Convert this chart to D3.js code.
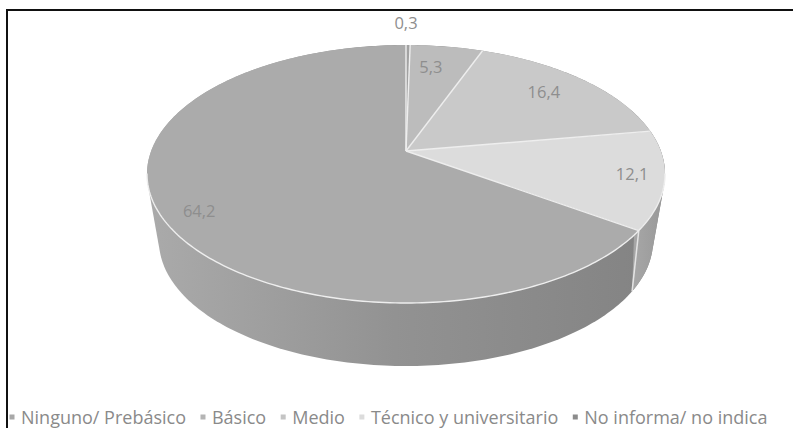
<!DOCTYPE html>
<html>
<head>
<meta charset="utf-8">
<script src="https://cdn.jsdelivr.net/npm/d3@7"></script>
<style>
  html, body { margin: 0; padding: 0; background: #fff; }
  svg { display: block; font-family: "Open Sans", sans-serif; }
</style>
</head>
<body>
<svg id="chart" width="793" height="428"></svg>
<script>
// Education level shares
const categories = ["Ninguno/ Prebásico", "Básico", "Medio", "Técnico y universitario", "No informa/ no indica"];
const shares = [0.3, 5.3, 16.4, 12.1, 64.2];
const shareLabels = ["0,3", "5,3", "16,4", "12,1", "64,2"];
const topColours = ["#a2a2a2", "#bcbcbc", "#c9c9c9", "#dcdcdc", "#ababab"];
const legendColours = ["#a8a8a8", "#b4b4b4", "#c4c4c4", "#dcdcdc", "#8c8c8c"];

// Label placement as fractions of the way from the apex to the rim
const labelReachX = [0, 0.61, 0.78, 0.874, 0.84];
const labelReachY = [1.21, 0.81, 0.84, 0.77, 0.94];

const svg = d3.select("#chart");
const centreX = 406;
const apexY = 151;
const deg = Math.PI / 180;

// A disc seen in perspective: a circle angle maps to screen through a projective transform.
function discProjection(topY, bottomY, halfWidth, skew) {
  const a = (topY * (1 + skew) - bottomY * (1 - skew)) / 2;
  const b = (topY * (1 + skew) + bottomY * (1 - skew)) / 2;
  const d = halfWidth * Math.sqrt(1 - skew * skew);
  return t => {
    const w = 1 + skew * Math.cos(t);
    return [centreX + d * Math.sin(t) / w, (a * Math.cos(t) + b) / w];
  };
}

const topRim = discProjection(45, 303, 259, 0.178);
const bottomRim = discProjection(116, 366, 247, 0.22);
const apex = [centreX, apexY];

const arcs = d3.pie().value(d => d).sort(null)(shares);
const line = d3.line();
const anglesBetween = (a0, a1) => {
  const out = d3.range(a0, a1, deg);
  out.push(a1);
  return out;
};

// Wall shading runs across the screen from lighter left to darker right.
const defs = svg.append("defs");
function wallGradient(id, x1, x2, stops) {
  const g = defs.append("linearGradient")
    .attr("id", id)
    .attr("gradientUnits", "userSpaceOnUse")
    .attr("x1", x1).attr("x2", x2).attr("y1", 0).attr("y2", 0);
  stops.forEach(([offset, colour]) => g.append("stop").attr("offset", offset).attr("stop-color", colour));
}
wallGradient("wall-main", 150, 640, [[0, "#aaaaaa"], [0.5, "#929292"], [1, "#848484"]]);
wallGradient("wall-right", 635, 665, [[0, "#a6a6a6"], [1, "#989898"]]);

// Cylinder wall: hull of both rims, with the right-hand slice's wall laid over it
const wallHull = (a0, a1) => {
  const angles = anglesBetween(a0, a1);
  return d3.polygonHull([...angles.map(topRim), ...angles.map(bottomRim)]);
};
svg.append("path")
  .attr("d", line(wallHull(0, 2 * Math.PI)) + "Z")
  .attr("fill", "url(#wall-main)");
svg.append("path")
  .attr("d", line(wallHull(arcs[3].startAngle, arcs[3].endAngle)) + "Z")
  .attr("fill", "url(#wall-right)");

// Pale edge where the two front walls meet
const seam = arcs[3].endAngle;
svg.append("path")
  .attr("d", line([topRim(seam), bottomRim(seam)]))
  .attr("fill", "none")
  .attr("stroke", "#e4e4e4")
  .attr("stroke-width", 1.5);

// Top face of each slice
svg.append("g").selectAll("path")
  .data(arcs)
  .join("path")
  .attr("d", d => line([apex, ...anglesBetween(d.startAngle, d.endAngle).map(topRim)]) + "Z")
  .attr("fill", (d, i) => topColours[i]);

// Pale separators between slices and along the front of the rim
svg.append("g").selectAll("path")
  .data(arcs)
  .join("path")
  .attr("d", d => line([apex, topRim(d.startAngle)]))
  .attr("fill", "none")
  .attr("stroke", "#eeeeee")
  .attr("stroke-width", 1.4);
svg.append("path")
  .attr("d", line(anglesBetween(100 * deg, 260 * deg).map(topRim)))
  .attr("fill", "none")
  .attr("stroke", "#eeeeee")
  .attr("stroke-width", 1.4);

// Value labels
svg.append("g").selectAll("text")
  .data(arcs)
  .join("text")
  .each(function (d, i) {
    const p = topRim((d.startAngle + d.endAngle) / 2);
    d3.select(this)
      .attr("x", apex[0] + (p[0] - apex[0]) * labelReachX[i])
      .attr("y", apex[1] + (p[1] - apex[1]) * labelReachY[i])
      .text(shareLabels[i]);
  })
  .attr("text-anchor", "middle")
  .attr("dominant-baseline", "central")
  .attr("font-size", 16.5)
  .attr("fill", "#8e8e8e");

// Legend laid out as one flowing row
const legend = svg.append("g").attr("transform", "translate(0,417)");
let cursor = 8;
categories.forEach((name, i) => {
  legend.append("rect")
    .attr("x", cursor + 1.5).attr("y", -2.5)
    .attr("width", 5).attr("height", 5)
    .attr("fill", legendColours[i]);
  const label = legend.append("text")
    .attr("x", cursor + 13)
    .attr("dominant-baseline", "central")
    .attr("font-size", 18)
    .attr("fill", "#8a8a8a")
    .text(name);
  cursor += 13 + label.node().getComputedTextLength() + 13;
});

// Chart frame: top and left rules
svg.append("path")
  .attr("d", line([[7, 428], [7, 10], [793, 10]]))
  .attr("fill", "none")
  .attr("stroke", "#111")
  .attr("stroke-width", 2);
</script>
</body>
</html>
